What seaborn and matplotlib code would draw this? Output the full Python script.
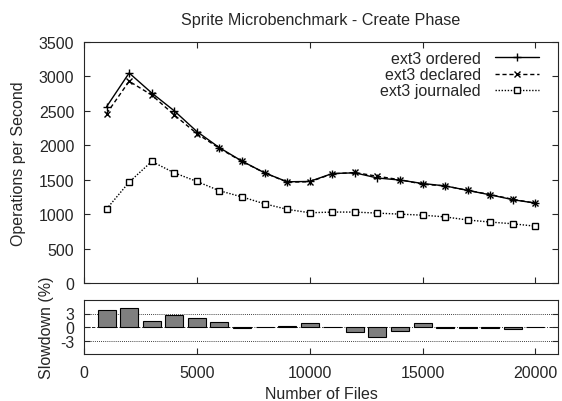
import numpy as np
import pandas as pd
import matplotlib
matplotlib.use("Agg")
import matplotlib.pyplot as plt
import seaborn as sns

files = [1000, 2000, 3000, 4000, 5000, 6000, 7000, 8000, 9000, 10000,
         11000, 12000, 13000, 14000, 15000, 16000, 17000, 18000, 19000, 20000]
ordered = [2560, 3050, 2760, 2500, 2200, 1965, 1770, 1600, 1470, 1475,
           1590, 1600, 1525, 1495, 1445, 1410, 1345, 1280, 1210, 1160]
declared = [2460, 2930, 2730, 2440, 2170, 1955, 1765, 1600, 1465, 1470,
            1585, 1605, 1550, 1500, 1435, 1410, 1345, 1285, 1215, 1160]
journaled = [1075, 1465, 1765, 1600, 1475, 1340, 1250, 1150, 1070, 1020,
             1030, 1030, 1015, 1000, 985, 960, 915, 885, 860, 825]
slowdown = [3.7, 4.15, 1.4, 2.75, 2.1, 1.05, -0.15, 0.1, 0.3, 0.8,
            -0.1, -1.0, -2.15, -0.8, 0.8, -0.25, -0.2, -0.3, -0.5, 0.1]

sns.set_theme(style="ticks")
plt.rcParams['font.family'] = ['Liberation Sans', 'DejaVu Sans']
FS = 11.5

fig = plt.figure(figsize=(5.62, 4.02), dpi=100)
ax = fig.add_axes([84/562, 1-284/402, 474/562, 241/402])
ax2 = fig.add_axes([84/562, 1-355/402, 474/562, 54/402])

df = pd.DataFrame({"files": files, "ordered": ordered,
                   "declared": declared, "journaled": journaled})
sns.lineplot(data=df, x="files", y="ordered", ax=ax, color="black", lw=1.0,
             marker="+", markersize=6, mew=1.0, markeredgecolor="black",
             label="ext3 ordered")
sns.lineplot(data=df, x="files", y="declared", ax=ax, color="black", lw=1.0,
             linestyle=(0, (3, 2)), marker="x", markersize=5, mew=1.0,
             markeredgecolor="black", label="ext3 declared")
sns.lineplot(data=df, x="files", y="journaled", ax=ax, color="black", lw=1.0,
             linestyle=(0, (1, 1.2)), marker="s", markersize=5, mew=1.0,
             markerfacecolor="white", markeredgecolor="black",
             label="ext3 journaled")

ax.set_xlim(0, 21000)
ax.set_ylim(0, 3500)
ax.set_yticks(np.arange(0, 3501, 500))
ax.set_xticks([0, 5000, 10000, 15000, 20000])
ax.set_xticklabels([])
ax.set_xlabel("")
ax.set_ylabel("Operations per Second", fontsize=FS, labelpad=9)
ax.set_title("Sprite Microbenchmark - Create Phase", fontsize=11.6, pad=13)
ax.tick_params(direction="in", top=True, right=True, length=4, labelsize=FS,
               width=0.8, pad=7)
for s in ax.spines.values():
    s.set_visible(True)
    s.set_linewidth(0.8)
leg = ax.legend(loc="upper right", bbox_to_anchor=(0.96, 0.963),
                frameon=False, markerfirst=False, borderaxespad=0,
                borderpad=0, handlelength=2.75, fontsize=FS,
                labelspacing=0.08, handletextpad=0.9)

sdf = pd.DataFrame({"files": files, "slowdown": slowdown})
sns.barplot(data=sdf, x="files", y="slowdown", ax=ax2, native_scale=True,
            color="#7f7f7f", saturation=1, edgecolor="black", linewidth=0.8,
            width=0.8)
for yv, ls in [(3, (0, (1, 1.5))), (-3, (0, (1, 1.5))), (0, (0, (4, 2, 1, 2)))]:
    ax2.axhline(yv, color="black", lw=0.6, linestyle=ls, zorder=0)
ax2.set_xlim(0, 21000)
ax2.set_ylim(-6, 6)
ax2.set_yticks([-3, 0, 3])
ax2.set_yticklabels(["-3", "0", "3"])
ax2.set_xticks([0, 5000, 10000, 15000, 20000])
ax2.set_xticklabels(["0", "5000", "10000", "15000", "20000"])
ax2.set_xlabel("Number of Files", fontsize=FS, labelpad=4)
ax2.set_ylabel("Slowdown (%)", fontsize=FS)
ax2.tick_params(direction="in", right=True, length=4, labelsize=FS, width=0.8)
ax2.tick_params(axis="y", pad=7)
ax2.tick_params(axis="x", pad=8)
for s in ax2.spines.values():
    s.set_visible(True)
    s.set_linewidth(0.8)

fig.align_ylabels([ax, ax2])
fig.savefig("out.png", dpi=100)
